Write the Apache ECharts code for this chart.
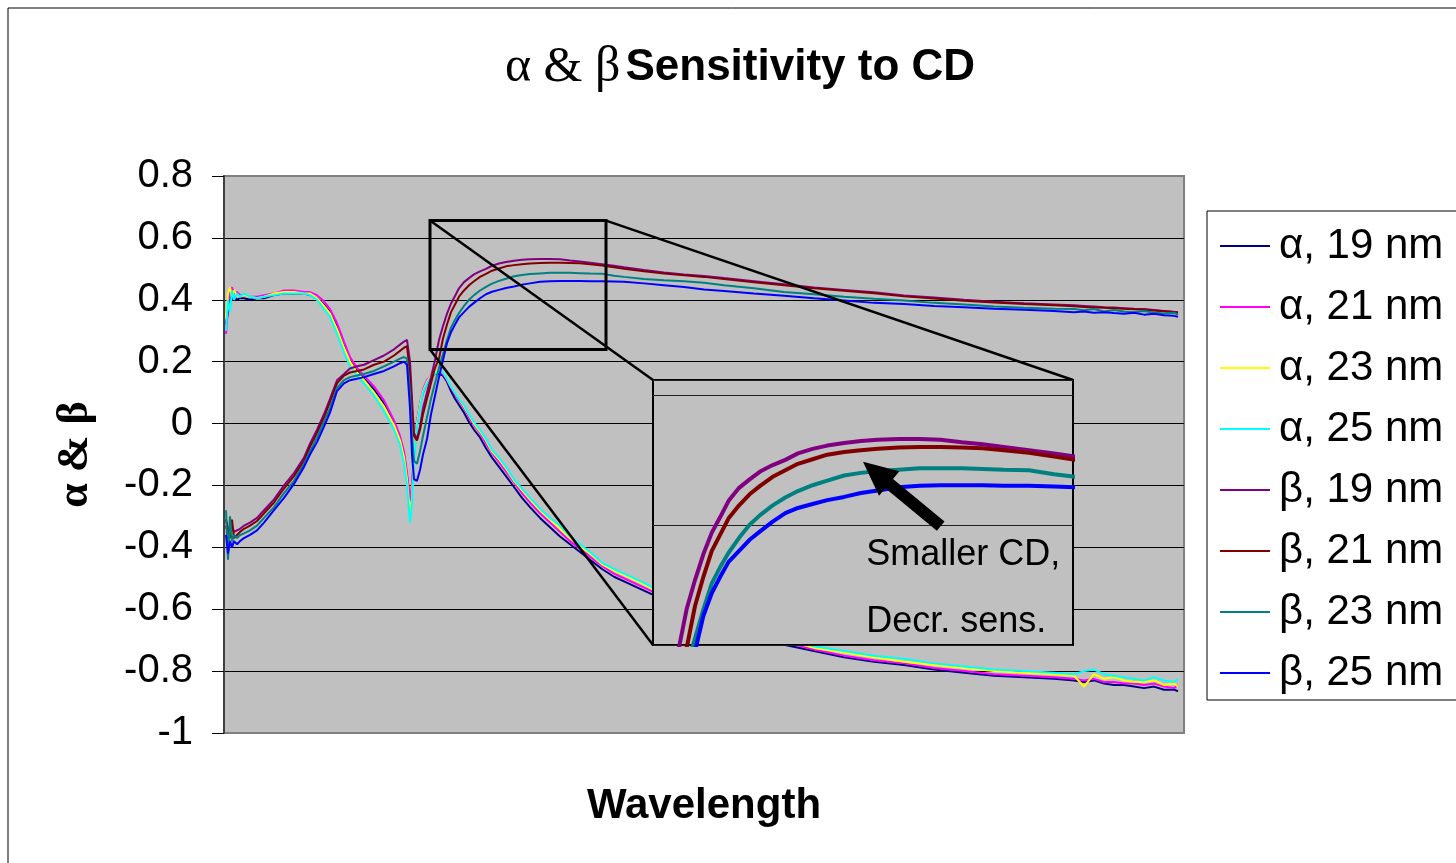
<!DOCTYPE html>
<html>
<head>
<meta charset="utf-8">
<script src="https://cdn.jsdelivr.net/npm/echarts@6/dist/echarts.min.js"></script>
<style>
html, body { margin: 0; padding: 0; background: #fff; }
#chart { width: 1456px; height: 863px; }
</style>
</head>
<body>
<div id="chart"></div>
<script>
// sample positions along the (unlabelled) wavelength axis
var wl = [
    2, 4, 6, 8, 10, 13, 16, 20, 26, 33,
    40, 50, 60, 70, 80, 86, 93, 100, 106, 113,
    120, 126, 133, 140, 150, 160, 170, 176, 180, 183,
    186, 188, 190, 193, 196, 199, 203, 207, 211, 215,
    219, 223, 227, 231, 235, 240, 245, 250, 256, 262,
    268, 275, 282, 290, 298, 306, 316, 326, 336, 346,
    356, 366, 378, 390, 400, 420, 440, 460, 480, 500,
    530, 560, 590, 620, 650, 680, 710, 740, 770, 800,
    830, 850, 860, 870, 880, 890, 900, 910, 920, 930,
    940, 950, 954
];

var alpha19 = [
    0.32, 0.36, 0.41, 0.40, 0.41, 0.40, 0.405, 0.405, 0.40, 0.405,
    0.405, 0.415, 0.42, 0.42, 0.42, 0.415, 0.405, 0.385, 0.36, 0.315,
    0.255, 0.205, 0.17, 0.145, 0.11, 0.065, 0.0, -0.05, -0.10, -0.17,
    -0.25, -0.22, -0.10, 0.0, 0.06, 0.10, 0.13, 0.15, 0.16, 0.16,
    0.155, 0.135, 0.105, 0.08, 0.06, 0.035, 0.005, -0.02, -0.045, -0.08,
    -0.11, -0.14, -0.17, -0.205, -0.24, -0.27, -0.305, -0.335, -0.365, -0.39,
    -0.415, -0.44, -0.47, -0.495, -0.51, -0.54, -0.57, -0.60, -0.63, -0.655,
    -0.685, -0.715, -0.735, -0.755, -0.77, -0.78, -0.795, -0.805, -0.815, -0.82,
    -0.825, -0.83, -0.835, -0.83, -0.84, -0.845, -0.845, -0.85, -0.855, -0.85,
    -0.86, -0.86, -0.865
];
var alpha21 = [
    0.29, 0.38, 0.43, 0.44, 0.42, 0.425, 0.415, 0.415, 0.41, 0.41,
    0.415, 0.42, 0.43, 0.43, 0.425, 0.425, 0.415, 0.395, 0.37, 0.325,
    0.265, 0.215, 0.18, 0.155, 0.12, 0.075, 0.01, -0.04, -0.09, -0.16,
    -0.25, -0.20, -0.09, 0.01, 0.065, 0.11, 0.14, 0.155, 0.165, 0.165,
    0.16, 0.14, 0.115, 0.095, 0.075, 0.05, 0.02, -0.005, -0.03, -0.065,
    -0.095, -0.125, -0.155, -0.19, -0.225, -0.255, -0.29, -0.32, -0.35, -0.38,
    -0.405, -0.43, -0.46, -0.485, -0.50, -0.53, -0.56, -0.59, -0.62, -0.645,
    -0.675, -0.705, -0.73, -0.75, -0.765, -0.775, -0.79, -0.80, -0.81, -0.815,
    -0.82, -0.825, -0.83, -0.825, -0.835, -0.835, -0.84, -0.84, -0.845, -0.84,
    -0.85, -0.855, -0.845
];
var alpha23 = [
    0.34, 0.42, 0.44, 0.41, 0.43, 0.415, 0.41, 0.415, 0.41, 0.405,
    0.41, 0.42, 0.425, 0.425, 0.42, 0.42, 0.405, 0.38, 0.355, 0.305,
    0.245, 0.20, 0.165, 0.14, 0.10, 0.055, -0.005, -0.055, -0.11, -0.18,
    -0.29, -0.24, -0.10, 0.0, 0.06, 0.105, 0.135, 0.155, 0.165, 0.17,
    0.165, 0.145, 0.12, 0.10, 0.08, 0.055, 0.028, 0.0, -0.025, -0.055,
    -0.09, -0.115, -0.145, -0.185, -0.215, -0.245, -0.28, -0.31, -0.34, -0.37,
    -0.395, -0.42, -0.455, -0.475, -0.49, -0.52, -0.555, -0.585, -0.615, -0.64,
    -0.67, -0.70, -0.725, -0.74, -0.755, -0.77, -0.78, -0.79, -0.80, -0.805,
    -0.81, -0.815, -0.85, -0.81, -0.825, -0.82, -0.83, -0.835, -0.835, -0.83,
    -0.845, -0.84, -0.85
];
var alpha25 = [
    0.30, 0.40, 0.36, 0.43, 0.40, 0.42, 0.41, 0.42, 0.41, 0.405,
    0.41, 0.415, 0.42, 0.42, 0.42, 0.415, 0.40, 0.37, 0.345, 0.29,
    0.23, 0.185, 0.155, 0.13, 0.09, 0.04, -0.02, -0.07, -0.13, -0.20,
    -0.32, -0.26, -0.12, -0.01, 0.05, 0.10, 0.13, 0.15, 0.16, 0.17,
    0.165, 0.145, 0.12, 0.10, 0.08, 0.06, 0.03, 0.005, -0.02, -0.05,
    -0.085, -0.11, -0.14, -0.18, -0.21, -0.24, -0.275, -0.305, -0.33, -0.365,
    -0.39, -0.415, -0.45, -0.47, -0.485, -0.515, -0.55, -0.58, -0.61, -0.635,
    -0.665, -0.695, -0.72, -0.735, -0.75, -0.76, -0.775, -0.785, -0.795, -0.80,
    -0.805, -0.81, -0.80, -0.795, -0.81, -0.815, -0.82, -0.825, -0.83, -0.82,
    -0.83, -0.835, -0.825
];
var beta19 = [
    -0.33, -0.36, -0.35, -0.33, -0.35, -0.345, -0.34, -0.33, -0.32, -0.305,
    -0.28, -0.245, -0.20, -0.16, -0.11, -0.065, -0.02, 0.03, 0.08, 0.14,
    0.16, 0.178, 0.185, 0.19, 0.205, 0.22, 0.24, 0.255, 0.265, 0.27,
    0.20, 0.08, -0.03, -0.05, -0.01, 0.05, 0.10, 0.15, 0.205, 0.27,
    0.315, 0.355, 0.388, 0.412, 0.437, 0.457, 0.47, 0.482, 0.492, 0.50,
    0.51, 0.517, 0.522, 0.526, 0.529, 0.531, 0.532, 0.532, 0.531, 0.527,
    0.524, 0.52, 0.515, 0.51, 0.505, 0.496, 0.488, 0.482, 0.477, 0.47,
    0.46, 0.45, 0.44, 0.432, 0.424, 0.414, 0.407, 0.40, 0.394, 0.389,
    0.385, 0.382, 0.38, 0.378, 0.376, 0.375, 0.373, 0.371, 0.37, 0.367,
    0.364, 0.361, 0.36
];
var beta21 = [
    -0.31, -0.34, -0.37, -0.31, -0.37, -0.36, -0.35, -0.34, -0.33, -0.315,
    -0.29, -0.255, -0.21, -0.17, -0.12, -0.075, -0.03, 0.02, 0.07, 0.13,
    0.155, 0.165, 0.17, 0.175, 0.19, 0.20, 0.22, 0.235, 0.245, 0.25,
    0.16, 0.05, -0.04, -0.055, -0.02, 0.03, 0.08, 0.13, 0.18, 0.21,
    0.275, 0.32, 0.36, 0.385, 0.41, 0.43, 0.447, 0.46, 0.474, 0.484,
    0.494, 0.501, 0.508, 0.512, 0.515, 0.517, 0.519, 0.52, 0.52, 0.519,
    0.518, 0.515, 0.511, 0.505, 0.50, 0.492, 0.485, 0.479, 0.474, 0.467,
    0.457, 0.447, 0.437, 0.429, 0.421, 0.411, 0.404, 0.397, 0.391, 0.386,
    0.382, 0.379, 0.377, 0.375, 0.374, 0.373, 0.371, 0.369, 0.368, 0.365,
    0.363, 0.36, 0.358
];
var beta23 = [
    -0.28, -0.44, -0.30, -0.38, -0.36, -0.37, -0.36, -0.355, -0.345, -0.33,
    -0.305, -0.27, -0.225, -0.185, -0.13, -0.09, -0.045, 0.005, 0.05, 0.115,
    0.14, 0.15, 0.155, 0.16, 0.17, 0.185, 0.20, 0.21, 0.215, 0.21,
    0.10, -0.04, -0.12, -0.13, -0.09, -0.04, 0.02, 0.08, 0.13, 0.18,
    0.225, 0.27, 0.31, 0.335, 0.357, 0.38, 0.40, 0.415, 0.43, 0.442,
    0.452, 0.461, 0.468, 0.476, 0.48, 0.483, 0.485, 0.487, 0.487, 0.487,
    0.486, 0.485, 0.484, 0.478, 0.474, 0.467, 0.463, 0.46, 0.455, 0.447,
    0.437, 0.425, 0.418, 0.41, 0.403, 0.398, 0.39, 0.385, 0.378, 0.374,
    0.371, 0.37, 0.366, 0.37, 0.362, 0.367, 0.362, 0.36, 0.364, 0.358,
    0.356, 0.358, 0.352
];
var beta25 = [
    -0.36, -0.42, -0.38, -0.40, -0.38, -0.39, -0.38, -0.37, -0.36, -0.345,
    -0.32, -0.28, -0.24, -0.195, -0.14, -0.10, -0.06, -0.01, 0.035, 0.105,
    0.13, 0.14, 0.145, 0.15, 0.16, 0.17, 0.185, 0.195, 0.20, 0.19,
    0.05, -0.10, -0.18, -0.185, -0.15, -0.10, -0.05, 0.03, 0.09, 0.15,
    0.205, 0.26, 0.295, 0.32, 0.343, 0.36, 0.377, 0.39, 0.405, 0.418,
    0.426, 0.432, 0.438, 0.443, 0.449, 0.453, 0.458, 0.46, 0.461, 0.461,
    0.461, 0.46, 0.46, 0.459, 0.458, 0.453, 0.447, 0.441, 0.433, 0.428,
    0.42, 0.413, 0.405, 0.398, 0.39, 0.386, 0.38, 0.376, 0.371, 0.368,
    0.364, 0.36, 0.362, 0.358, 0.36, 0.357, 0.355, 0.358, 0.352, 0.355,
    0.35, 0.348, 0.345
];

var seriesNames = ["α, 19 nm", "α, 21 nm", "α, 23 nm", "α, 25 nm",
                   "β, 19 nm", "β, 21 nm", "β, 23 nm", "β, 25 nm"];
var seriesValues = [alpha19, alpha21, alpha23, alpha25, beta19, beta21, beta23, beta25];
var seriesColors = ["#000080", "#FF00FF", "#FFFF00", "#00FFFF",
                    "#800080", "#800000", "#008080", "#0000FF"];

// zoomed window shown in the inset (wavelength range, value range)
var zoomX = [206, 382];
var zoomY = [0.239, 0.656];
var insetX = [199, 399];
var insetY = [0.215, 0.623];

var FONT = "'Liberation Sans', Arial, sans-serif";
var SERIF = "'Liberation Serif', 'Times New Roman', serif";

function pairs(vals) {
    return wl.map(function (x, i) { return [x, vals[i]]; });
}

var series = [];
seriesValues.forEach(function (vals, i) {
    series.push({
        name: seriesNames[i],
        type: "line",
        data: pairs(vals),
        showSymbol: false,
        z: 2,
        color: seriesColors[i],
        lineStyle: { width: 2 },
    });
});
// inset: the beta curves, magnified
for (var i = 4; i < 8; i++) {
    series.push({
        name: seriesNames[i],
        type: "line",
        xAxisIndex: 1,
        yAxisIndex: 1,
        data: pairs(seriesValues[i]),
        showSymbol: false,
        clip: true,
        z: 6,
        color: seriesColors[i],
        lineStyle: { width: 4 },
    });
}

var myChart = echarts.init(document.getElementById("chart"));
var option = {
    animation: false,
    backgroundColor: "#ffffff",
    title: {
        text: "{g|α & β} {b|Sensitivity to CD}",
        left: 735,
        textAlign: "center",
        top: 38,
        textStyle: {
            rich: {
                g: { fontFamily: SERIF, fontWeight: "normal", fontSize: 50, color: "#000" },
                b: { fontFamily: FONT, fontWeight: "bold", fontSize: 44, color: "#000" },
            },
        },
    },
    legend: {
        data: seriesNames,
        orient: "vertical",
        left: 1207,
        top: 211,
        icon: "rect",
        itemWidth: 50,
        itemHeight: 2,
        itemGap: 19,
        padding: [14, 20, 6, 13],
        backgroundColor: "#fff",
        borderColor: "#000",
        borderWidth: 1,
        borderRadius: 0,
        textStyle: {
            fontFamily: FONT,
            fontSize: 42,
            lineHeight: 40,
            color: "#000",
            padding: [0, 0, 0, 4],
        },
    },
    grid: [
        {
            left: 224, top: 176, width: 960, height: 557,
            show: true,
            backgroundColor: "#C0C0C0",
            borderColor: "#808080",
            borderWidth: 2,
        },
        {
            left: 653, top: 380, width: 420, height: 265,
            show: true,
            backgroundColor: "#C0C0C0",
            borderColor: "#000",
            borderWidth: 2,
            z: 5,
        },
    ],
    xAxis: [
        {
            type: "value",
            gridIndex: 0,
            min: 0,
            max: 960,
            name: "Wavelength",
            nameLocation: "middle",
            nameGap: 52,
            nameTextStyle: { fontFamily: FONT, fontWeight: "bold", fontSize: 42, color: "#000" },
            axisLine: { show: false },
            axisTick: { show: false },
            axisLabel: { show: false },
            splitLine: { show: false },
        },
        {
            type: "value",
            gridIndex: 1,
            min: insetX[0],
            max: insetX[1],
            show: false,
        },
    ],
    yAxis: [
        {
            type: "value",
            gridIndex: 0,
            min: -1,
            max: 0.8,
            interval: 0.2,
            name: "α & β",
            nameLocation: "middle",
            nameGap: 126,
            nameRotate: 90,
            nameTextStyle: { fontFamily: SERIF, fontWeight: "bold", fontSize: 44, color: "#000" },
            axisLine: { show: true, lineStyle: { color: "#404040", width: 2 } },
            axisTick: { show: true, inside: false, length: 12, lineStyle: { color: "#000", width: 1 } },
            axisLabel: {
                margin: 31,
                fontFamily: FONT,
                fontSize: 40,
                color: "#000",
                formatter: function (v) { return String(Math.round(v * 10) / 10); },
            },
            splitLine: {
                show: true,
                lineStyle: {
                    color: ["#808080", "#000", "#000", "#000", "#000", "#000", "#000", "#000", "#000", "#808080"],
                    width: 1,
                },
            },
        },
        {
            type: "value",
            gridIndex: 1,
            min: insetY[0],
            max: insetY[1],
            splitNumber: 2,
            z: 5,
            axisLine: { show: false },
            axisTick: { show: false },
            axisLabel: { show: false },
            splitLine: { show: true, lineStyle: { color: "#202020", width: 1 } },
        },
    ],
    series: series,
};

myChart.setOption(option);

// zoom box, connector lines, arrow and note, placed through the axes
function toPx(g, x, y) {
    return myChart.convertToPixel({ xAxisIndex: g, yAxisIndex: g }, [x, y]);
}
var bTL = toPx(0, zoomX[0], zoomY[1]);
var bBR = toPx(0, zoomX[1], zoomY[0]);
var iTL = toPx(1, insetX[0], insetY[1]);
var iBR = toPx(1, insetX[1], insetY[0]);

var tip = toPx(1, 299, 0.497);
var tail = toPx(1, 336, 0.398);
var dx = tip[0] - tail[0], dy = tip[1] - tail[1];
var len = Math.sqrt(dx * dx + dy * dy);
var ux = dx / len, uy = dy / len, nx = -uy, ny = ux;
var headLen = 34, headW = 16, shaftW = 6;
var hb = [tip[0] - ux * headLen, tip[1] - uy * headLen];
var arrowPts = [
    [tail[0] + nx * shaftW, tail[1] + ny * shaftW],
    [hb[0] + nx * shaftW, hb[1] + ny * shaftW],
    [hb[0] + nx * headW, hb[1] + ny * headW],
    tip,
    [hb[0] - nx * headW, hb[1] - ny * headW],
    [hb[0] - nx * shaftW, hb[1] - ny * shaftW],
    [tail[0] - nx * shaftW, tail[1] - ny * shaftW],
];
var note1 = toPx(1, 300.5, 0.354);
var note2 = toPx(1, 300.5, 0.251);

var lineStyle = { stroke: "#000", lineWidth: 2.5 };
myChart.setOption({
    graphic: [
        {
            type: "rect", z: 100, silent: true,
            shape: { x: 8, y: 8, width: 1470, height: 880 },
            style: { fill: null, stroke: "#000", lineWidth: 1 },
        },
        {
            type: "rect", z: 3, silent: true,
            shape: { x: bTL[0], y: bTL[1], width: bBR[0] - bTL[0], height: bBR[1] - bTL[1] },
            style: { fill: null, stroke: "#000", lineWidth: 3 },
        },
        {
            type: "line", z: 3, silent: true,
            shape: { x1: bTL[0], y1: bTL[1], x2: iTL[0], y2: iTL[1] },
            style: lineStyle,
        },
        {
            type: "line", z: 3, silent: true,
            shape: { x1: bBR[0], y1: bTL[1], x2: iBR[0], y2: iTL[1] },
            style: lineStyle,
        },
        {
            type: "line", z: 3, silent: true,
            shape: { x1: bTL[0], y1: bBR[1], x2: iTL[0], y2: iBR[1] },
            style: lineStyle,
        },
        {
            type: "polygon", z: 10, silent: true,
            shape: { points: arrowPts },
            style: { fill: "#000" },
        },
        {
            type: "text", z: 10, silent: true,
            x: note1[0], y: note1[1],
            style: { text: "Smaller CD,", font: "36px " + FONT, fill: "#000", verticalAlign: "middle" },
        },
        {
            type: "text", z: 10, silent: true,
            x: note2[0], y: note2[1],
            style: { text: "Decr. sens.", font: "36px " + FONT, fill: "#000", verticalAlign: "middle" },
        },
    ],
});
</script>
</body>
</html>
